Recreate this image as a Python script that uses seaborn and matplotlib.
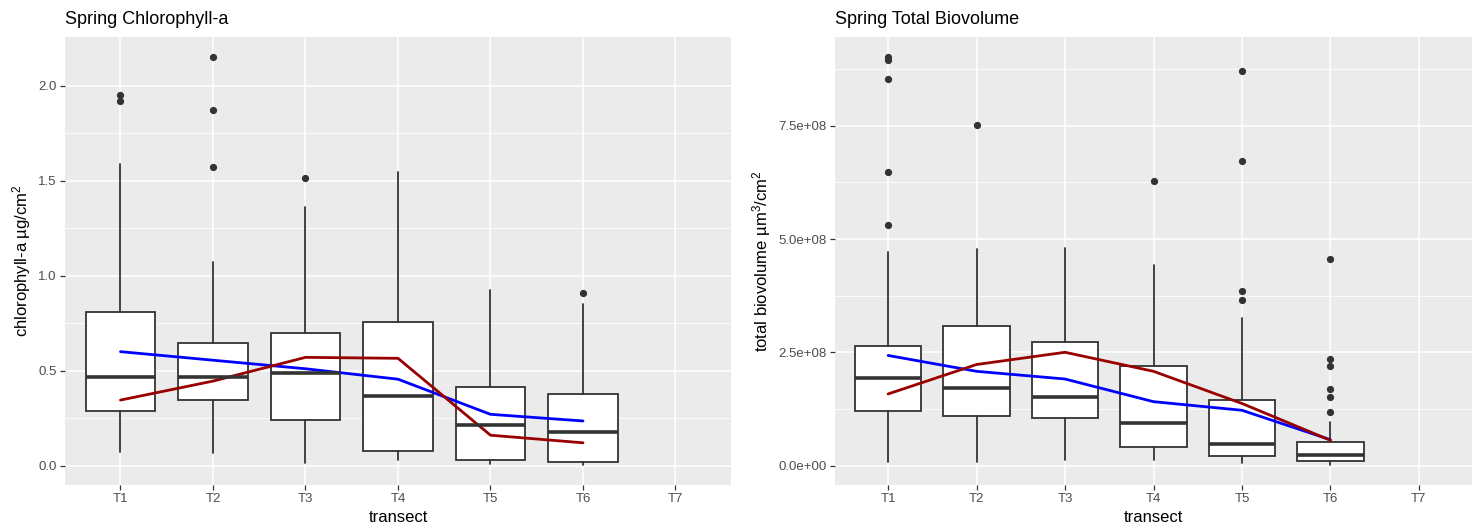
import numpy as np
import matplotlib
matplotlib.use("Agg")
import matplotlib.pyplot as plt
import seaborn as sns

# ---------------- data ----------------
categories = ["T1", "T2", "T3", "T4", "T5", "T6", "T7"]
box_categories = ["T1", "T2", "T3", "T4", "T5", "T6"]

# Spring Chlorophyll-a (ug/cm2)
chl_whislo = [0.07, 0.065, 0.012, 0.03, 0.01, 0.005]
chl_q1 = [0.29, 0.345, 0.24, 0.075, 0.03, 0.018]
chl_med = [0.465, 0.465, 0.485, 0.365, 0.215, 0.178]
chl_q3 = [0.81, 0.645, 0.70, 0.755, 0.415, 0.375]
chl_whishi = [1.59, 1.07, 1.36, 1.545, 0.925, 0.85]
chl_outliers = [[1.95, 1.92], [2.15, 1.875, 1.575], [1.515], [], [], [0.91]]
chl_blue = [0.60, 0.555, 0.51, 0.455, 0.27, 0.235]
chl_red = [0.345, 0.445, 0.57, 0.565, 0.16, 0.12]

# Spring Total Biovolume (um3/cm2)
bio_whislo = [0.07e8, 0.07e8, 0.13e8, 0.13e8, 0.05e8, 0.02e8]
bio_q1 = [1.21e8, 1.10e8, 1.06e8, 0.41e8, 0.21e8, 0.11e8]
bio_med = [1.94e8, 1.72e8, 1.51e8, 0.94e8, 0.48e8, 0.24e8]
bio_q3 = [2.64e8, 3.07e8, 2.72e8, 2.20e8, 1.45e8, 0.52e8]
bio_whishi = [4.71e8, 4.77e8, 4.80e8, 4.42e8, 3.25e8, 0.965e8]
bio_outliers = [[9.01e8, 8.96e8, 8.53e8, 6.49e8, 5.30e8], [7.52e8], [], [6.27e8],
                [8.70e8, 6.73e8, 3.86e8, 3.66e8],
                [4.55e8, 2.36e8, 2.20e8, 1.68e8, 1.51e8, 1.18e8]]
bio_blue = [2.43e8, 2.08e8, 1.91e8, 1.41e8, 1.22e8, 0.57e8]
bio_red = [1.58e8, 2.23e8, 2.50e8, 2.08e8, 1.37e8, 0.557e8]

chl_yticks = [0.0, 0.5, 1.0, 1.5, 2.0]
chl_yticklabels = ["0.0", "0.5", "1.0", "1.5", "2.0"]
chl_yminor = [0.25, 0.75, 1.25, 1.75]
bio_yticks = [0.0, 2.5e8, 5.0e8, 7.5e8]
bio_yticklabels = ["0.0e+00", "2.5e+08", "5.0e+08", "7.5e+08"]
bio_yminor = [1.25e8, 3.75e8, 6.25e8, 8.75e8]

# ---------------- style ----------------
sns.set_theme(style="darkgrid", rc={
    "axes.facecolor": "#EBEBEB",
    "grid.color": "white",
    "axes.edgecolor": "#EBEBEB",
})
plt.rcParams["font.family"] = ["Liberation Sans", "DejaVu Sans"]
plt.rcParams["mathtext.fontset"] = "custom"
plt.rcParams["mathtext.rm"] = "Liberation Sans"
plt.rcParams["mathtext.it"] = "Liberation Sans:italic"
plt.rcParams["mathtext.bf"] = "Liberation Sans:bold"

GRAY20 = "#333333"
GRAY30 = "#4D4D4D"

fig = plt.figure(figsize=(14.75, 5.27), dpi=100)
ax1 = fig.add_axes([65 / 1475, 1 - 485 / 527, 666 / 1475, 448 / 527])
ax2 = fig.add_axes([835 / 1475, 1 - 485 / 527, 637 / 1475, 448 / 527])


def draw_panel(ax, title, ylabel, whislo, q1, med, q3, whishi, outliers,
               blue, red, yticks, yticklabels, yminor):
    positions = [categories.index(c) for c in box_categories]
    stats = []
    for i, c in enumerate(box_categories):
        stats.append(dict(whislo=whislo[i], q1=q1[i], med=med[i], q3=q3[i],
                          whishi=whishi[i], fliers=outliers[i], label=c))
    ax.set_axisbelow(True)
    ax.bxp(stats, positions=positions, widths=0.75, showcaps=False,
           patch_artist=True,
           boxprops=dict(facecolor="white", edgecolor=GRAY20, linewidth=1.3),
           whiskerprops=dict(color=GRAY20, linewidth=1.3),
           medianprops=dict(color=GRAY20, linewidth=2.6, solid_capstyle="butt"),
           flierprops=dict(marker="o", markerfacecolor=GRAY20,
                           markeredgecolor=GRAY20, markersize=4.2),
           manage_ticks=False)
    sns.lineplot(x=positions, y=blue, color="#0000FF", linewidth=2.0, ax=ax,
                 sort=False, estimator=None)
    sns.lineplot(x=positions, y=red, color="#990000", linewidth=2.0, ax=ax,
                 sort=False, estimator=None)

    allv = list(whislo) + list(whishi) + [v for o in outliers for v in o]
    lo, hi = min(allv), max(allv)
    pad = 0.05 * (hi - lo)
    ax.set_ylim(lo - pad, hi + pad)
    ax.set_xlim(-0.6, len(categories) - 0.4)

    ax.set_xticks(range(len(categories)))
    ax.set_xticklabels(categories)
    ax.set_yticks(yticks)
    ax.set_yticklabels(yticklabels)
    ax.set_yticks(yminor, minor=True)
    ax.grid(which="major", color="white", linewidth=1.1)
    ax.grid(which="minor", axis="y", color="white", linewidth=0.55)
    ax.grid(which="minor", axis="x", visible=False)
    for s in ax.spines.values():
        s.set_visible(False)
    ax.tick_params(axis="both", which="major", direction="out", length=3.5,
                   width=0.9, color=GRAY20, labelcolor=GRAY30, labelsize=9.5,
                   pad=2.5, bottom=True, left=True)
    ax.tick_params(axis="both", which="minor", length=0)
    ax.set_xlabel("transect", fontsize=12, color="black", labelpad=3)
    ax.set_ylabel(ylabel, fontsize=12, color="black", labelpad=4)
    ax.set_title(title, loc="left", fontsize=13, color="black", pad=9)


draw_panel(ax1, "Spring Chlorophyll-a", "chlorophyll-a \u00b5g/cm$^{2}$",
           chl_whislo, chl_q1, chl_med, chl_q3, chl_whishi, chl_outliers,
           chl_blue, chl_red, chl_yticks, chl_yticklabels, chl_yminor)
draw_panel(ax2, "Spring Total Biovolume", "total biovolume \u00b5m$^{3}$/cm$^{2}$",
           bio_whislo, bio_q1, bio_med, bio_q3, bio_whishi, bio_outliers,
           bio_blue, bio_red, bio_yticks, bio_yticklabels, bio_yminor)

fig.savefig("out.png", dpi=100, facecolor="white")
